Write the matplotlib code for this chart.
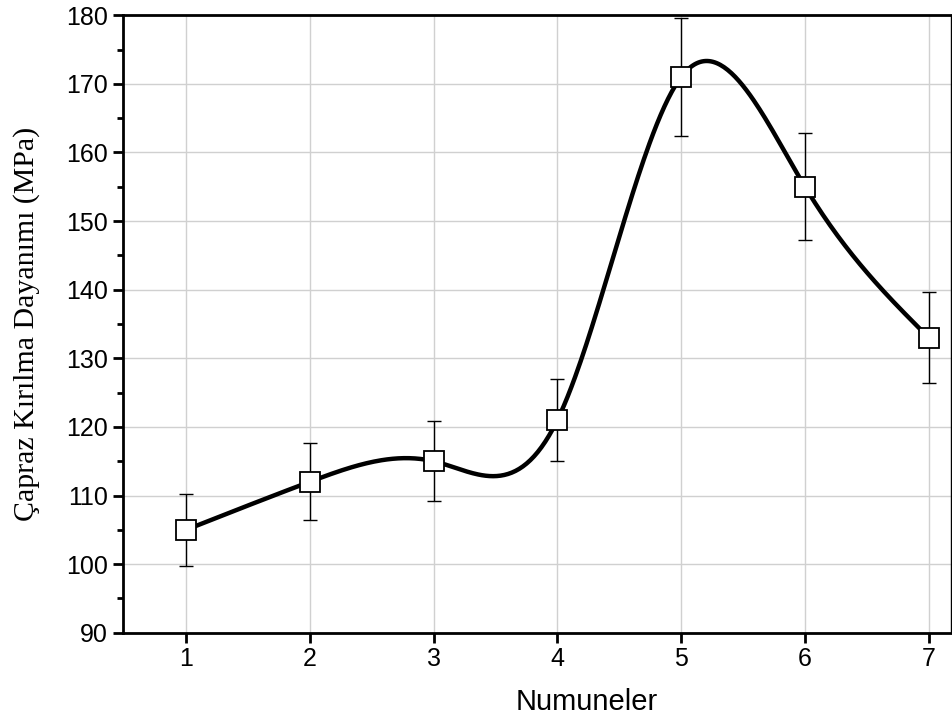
import numpy as np
import matplotlib.pyplot as plt

# veri
numune = [1, 2, 3, 4, 5, 6, 7]
dayanim = [105, 112, 115, 121, 171, 155, 133]
hata = [5.2, 5.6, 5.8, 6.0, 8.6, 7.8, 6.6]


def dogal_spline(x, y, n=400):
    '''Doğal kübik spline ile düzgün eğri'''
    x = np.asarray(x, float)
    y = np.asarray(y, float)
    k = len(x)
    h = np.diff(x)
    A = np.zeros((k, k))
    b = np.zeros(k)
    A[0, 0] = 1
    A[-1, -1] = 1
    for i in range(1, k - 1):
        A[i, i - 1] = h[i - 1]
        A[i, i] = 2 * (h[i - 1] + h[i])
        A[i, i + 1] = h[i]
        b[i] = 6 * ((y[i + 1] - y[i]) / h[i] - (y[i] - y[i - 1]) / h[i - 1])
    M = np.linalg.solve(A, b)
    xs = np.linspace(x[0], x[-1], n)
    ys = np.zeros_like(xs)
    for j, t in enumerate(xs):
        i = min(np.searchsorted(x, t, side='right') - 1, k - 2)
        a = x[i + 1] - t
        c = t - x[i]
        ys[j] = (M[i] * a**3 / (6 * h[i]) + M[i + 1] * c**3 / (6 * h[i])
                 + (y[i] / h[i] - M[i] * h[i] / 6) * a
                 + (y[i + 1] / h[i] - M[i + 1] * h[i] / 6) * c)
    return xs, ys


fig = plt.figure(figsize=(9.52, 7.24), dpi=100)
ax = fig.add_axes([0.129, 0.126, 0.870, 0.853])

xs, ys = dogal_spline(numune, dayanim)
ax.plot(xs, ys, color='black', linewidth=3.2, zorder=3)
ax.errorbar(numune, dayanim, yerr=hata, fmt='none', ecolor='black',
            elinewidth=1, capsize=5, capthick=1, zorder=2)
ax.plot(numune, dayanim, 's', markersize=15, markerfacecolor='white',
        markeredgecolor='black', markeredgewidth=1.3, zorder=4)

ax.set_xlim(0.49, 7.18)
ax.set_ylim(90, 180)
ax.set_xticks(numune)
ax.set_yticks(range(90, 181, 10))
ax.set_yticks(range(95, 180, 10), minor=True)
ax.grid(True, color='#d0d0d0', linewidth=1)
ax.set_axisbelow(True)

for s in ['left', 'bottom', 'top']:
    ax.spines[s].set_linewidth(2)
ax.spines['right'].set_linewidth(1)

ax.tick_params(axis='both', which='major', direction='out', length=7, width=2,
               labelsize=18)
ax.tick_params(axis='y', which='minor', direction='out', length=4, width=2)
for lab in ax.get_xticklabels() + ax.get_yticklabels():
    lab.set_fontfamily('Liberation Sans')

ax.set_xlabel('Numuneler', fontsize=21, fontfamily='Liberation Sans')
ax.set_ylabel('Çapraz Kırılma Dayanımı (MPa)', fontsize=21.5,
              fontfamily='Liberation Serif')
ax.xaxis.set_label_coords(0.56, -0.089)
ax.yaxis.set_label_coords(-0.100, 0.5)

fig.savefig('out.png', dpi=100)
